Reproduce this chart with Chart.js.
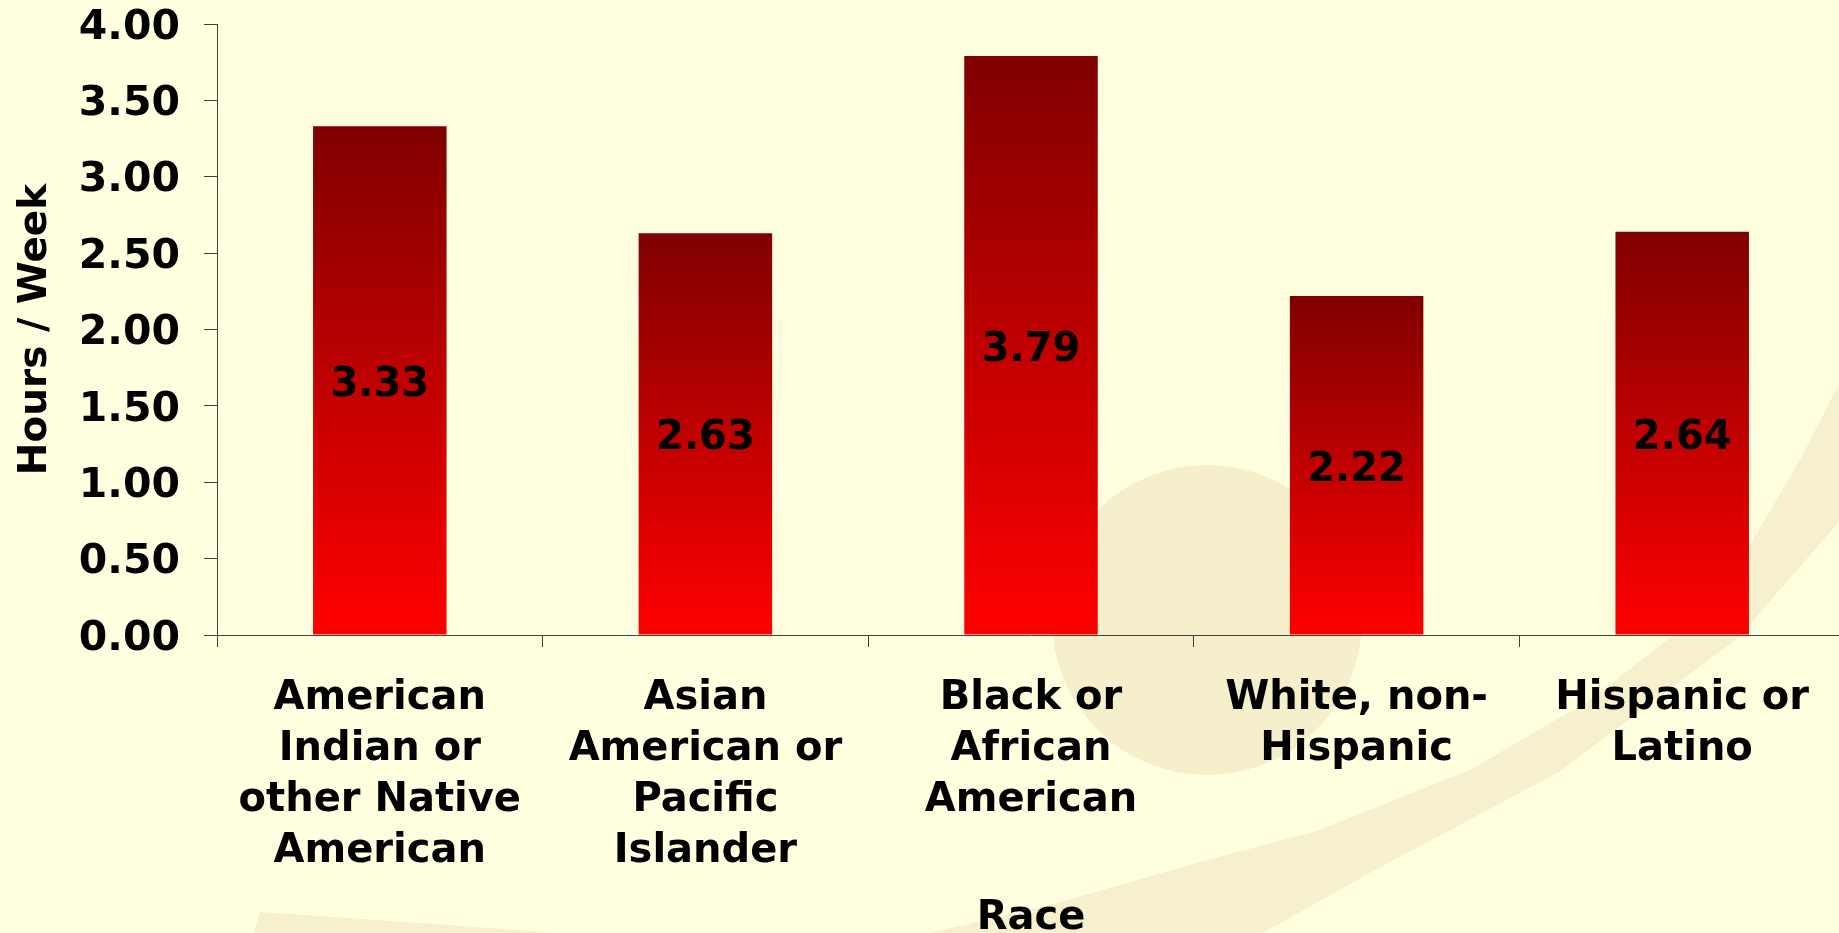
<!DOCTYPE html>
<html>
<head>
<meta charset="utf-8">
<script src="https://cdn.jsdelivr.net/npm/chart.js@4.4.1/dist/chart.umd.min.js"></script>
<style>
  html, body { margin:0; padding:0; overflow:hidden; width:1839px; height:933px; background:#FFFFE0; }
  canvas { position:absolute; left:0; top:0; }
</style>
</head>
<body>
<canvas id="c" width="1845" height="933"></canvas>
<script>
// ---- data ----
const categories = [
  ["American", "Indian or", "other Native", "American"],
  ["Asian", "American or", "Pacific", "Islander"],
  ["Black or", "African", "American"],
  ["White, non-", "Hispanic"],
  ["Hispanic or", "Latino"]
];
const hoursPerWeek = [3.33, 2.63, 3.79, 2.22, 2.64];
const yMin = 0;
const yMax = 4;
const yStep = 0.5;
const yAxisTitle = "Hours / Week";
const xAxisTitle = "Race";

// ---- decorative background (slide backdrop) ----
const backdrop = {
  id: 'backdrop',
  beforeDraw(chart) {
    const c = chart.ctx;
    c.save();
    c.fillStyle = '#FFFFE0';
    c.fillRect(0, 0, chart.width, chart.height);
    c.fillStyle = '#F5EFCC';
    c.beginPath();
    c.arc(1207, 620, 155, 0, Math.PI * 2);
    c.fill();
    const upper = [[260,912],[450,925],[650,940],[900,940],[1050,905],[1200,862],[1320,830],[1470,770],[1590,700],[1680,630],[1750,545],[1800,460],[1845,372]];
    const lower = [[1845,515],[1738,638],[1559,772],[1379,868],[1259,935],[1250,945],[250,945]];
    c.fillStyle = '#F6F0CE';
    c.beginPath();
    c.moveTo(upper[0][0], upper[0][1]);
    for (let i = 1; i < upper.length; i++) c.lineTo(upper[i][0], upper[i][1]);
    for (const p of lower) c.lineTo(p[0], p[1]);
    c.closePath();
    c.fill();
    c.restore();
  }
};

// ---- value labels in the middle of each bar ----
const valueLabels = {
  id: 'valueLabels',
  afterDatasetsDraw(chart) {
    const c = chart.ctx;
    const meta = chart.getDatasetMeta(0);
    const data = chart.data.datasets[0].data;
    c.save();
    c.font = 'bold 40px "DejaVu Sans", Verdana, sans-serif';
    c.fillStyle = '#000';
    c.textAlign = 'center';
    c.textBaseline = 'middle';
    meta.data.forEach((el, i) => {
      c.fillText(data[i].toFixed(2), el.x, (el.y + el.base) / 2 + 5);
    });
    c.restore();
  }
};

Chart.defaults.font.family = '"DejaVu Sans", Verdana, sans-serif';
Chart.defaults.font.weight = 'bold';
Chart.defaults.color = '#000';

new Chart(document.getElementById('c'), {
  type: 'bar',
  data: {
    labels: categories,
    datasets: [{
      data: hoursPerWeek,
      backgroundColor: (ctx) => {
        const chart = ctx.chart;
        if (!chart.chartArea || ctx.type !== 'data') return '#C00000';
        const y = chart.scales.y;
        const top = y.getPixelForValue(ctx.raw);
        const base = y.getPixelForValue(0);
        const g = chart.ctx.createLinearGradient(0, top, 0, base);
        g.addColorStop(0, '#800000');
        g.addColorStop(1, '#FF0000');
        return g;
      },
      borderWidth: 0,
      barPercentage: 0.41,
      categoryPercentage: 1.0
    }]
  },
  options: {
    responsive: false,
    devicePixelRatio: 1,
    animation: false,
    layout: { padding: { top: 24, left: 0, right: 0, bottom: 0 } },
    plugins: { legend: { display: false }, tooltip: { enabled: false } },
    scales: {
      y: {
        min: yMin,
        max: yMax,
        ticks: {
          stepSize: yStep,
          padding: 24,
          labelOffset: 4,
          color: '#000',
          font: { size: 41, weight: 'bold', lineHeight: 1.15 },
          callback: (v) => Number(v).toFixed(2)
        },
        grid: { drawOnChartArea: false, drawTicks: true, tickLength: 13, color: '#404040' },
        border: { display: true, color: '#404040', width: 1 },
        title: {
          display: true, text: yAxisTitle, color: '#000',
          font: { size: 39, weight: 'bold', lineHeight: 1.2 },
          padding: { top: 12, bottom: 0 }
        },
        afterFit(s) { s.width = 217; s.paddingTop = 0; s.paddingBottom = 0; }
      },
      x: {
        ticks: {
          padding: 26, color: '#000', maxRotation: 0, autoSkip: false,
          font: { size: 40, weight: 'bold', lineHeight: 1.275 }
        },
        grid: { drawOnChartArea: false, drawTicks: true, tickLength: 12, color: '#404040', offset: true },
        border: { display: true, color: '#404040', width: 1 },
        title: {
          display: true, text: xAxisTitle, color: '#000',
          font: { size: 40, weight: 'bold', lineHeight: 1.2 },
          padding: { top: 0, bottom: -10 }
        },
        afterFit(s) { s.height = 298; s.paddingLeft = 0; s.paddingRight = 0; }
      }
    }
  },
  plugins: [backdrop, valueLabels]
});
</script>
</body>
</html>
